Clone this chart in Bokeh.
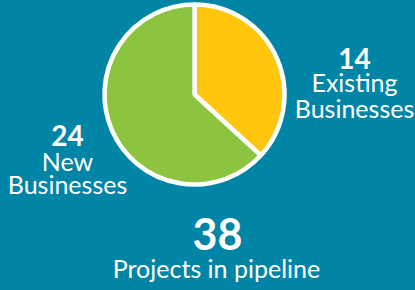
import numpy as np
from bokeh.plotting import figure
from bokeh.models import ColumnDataSource, Range1d
from bokeh.core.properties import value
from bokeh.embed import file_html
from bokeh.resources import INLINE

# ---- data ----
categories = ["Existing Businesses", "New Businesses"]
counts = [14, 24]
colors = ["#FFC60D", "#8CC43F"]
total_label = "Projects in pipeline"

BG = "#0185A6"
W, H = 415, 290

p = figure(width=W, height=H, output_backend="svg", toolbar_location=None,
           x_range=Range1d(0, W), y_range=Range1d(0, H),
           min_border=0, background_fill_color=BG, border_fill_color=BG,
           outline_line_color=None)
p.axis.visible = False
p.grid.visible = False

# pie wedges: start at top, clockwise
vals = np.array(counts, dtype=float)
frac = vals / vals.sum()
cum = np.concatenate([[0], np.cumsum(frac)])
start = np.pi / 2 - cum[:-1] * 2 * np.pi
end = np.pi / 2 - cum[1:] * 2 * np.pi
cx, cy, r = 194, 196, 90
src = ColumnDataSource(dict(cat=categories, v=counts, start=start, end=end, color=colors))
p.wedge(x=cx, y=cy, radius=r, start_angle="start", end_angle="end", direction="clock",
        fill_color="color", line_color="white", line_width=4.5, source=src)

FONT = value("Lato")
# label positions (layout)
lab_x = [354, 67]
num_txt = [str(c) for c in counts]
p.text(x=lab_x, y=[232, 155], text=num_txt, text_font=FONT, text_font_style="bold",
       text_font_size="28px", text_color="white", text_align="center",
       text_baseline="alphabetic")
line1 = [c.split(" ")[0] for c in categories]
line2 = [c.split(" ")[1] for c in categories]
p.text(x=lab_x, y=[209, 130], text=line1, text_font=FONT, text_font_size="25px",
       text_color="white", text_align="center", text_baseline="alphabetic")
p.text(x=lab_x, y=[183, 107], text=line2, text_font=FONT, text_font_size="25px",
       text_color="white", text_align="center", text_baseline="alphabetic")

# total
p.text(x=[217], y=[57], text=[str(int(vals.sum()))], text_font=FONT, text_font_style="bold",
       text_font_size="43px", text_color="white", text_align="center",
       text_baseline="alphabetic")
p.text(x=[216], y=[23], text=[total_label], text_font=FONT, text_font_size="25px",
       text_color="white", text_align="center", text_baseline="alphabetic")

html = file_html(p, INLINE)
html = html.replace("<head>", "<head><style>html,body{background:%s;}</style>" % BG, 1)
open("out.html", "w").write(html)
